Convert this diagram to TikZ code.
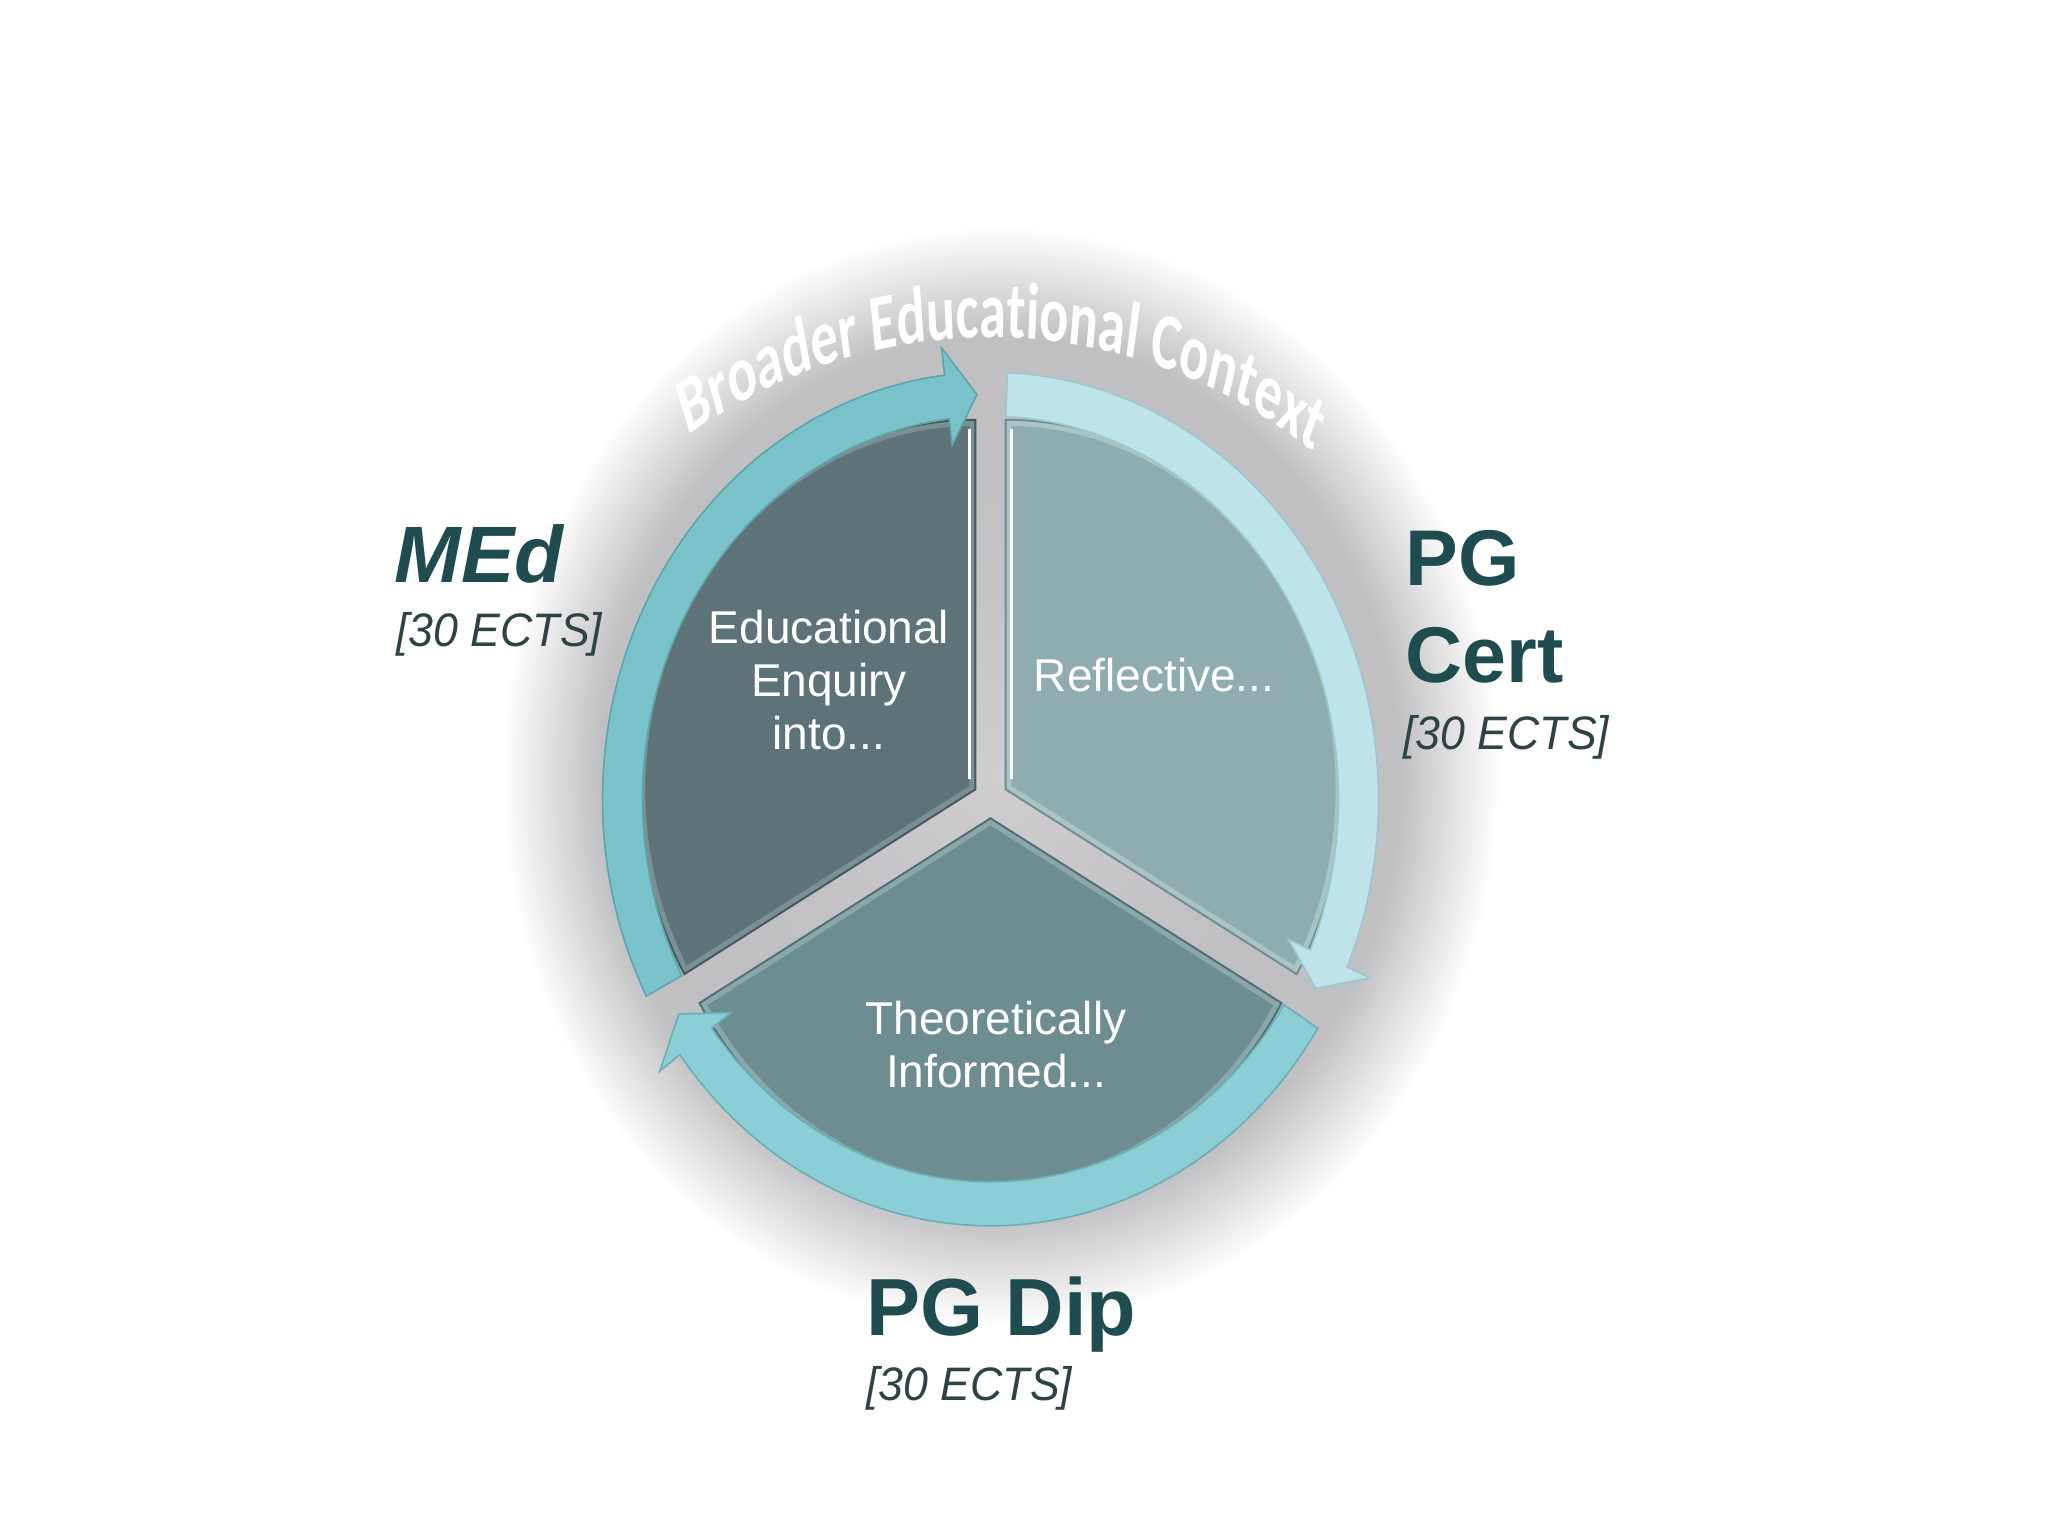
\documentclass[tikz,border=0pt]{standalone}
\usepackage{fontspec}
\setmainfont{Liberation Sans}
\newfontfamily\carl{Carlito}
\usetikzlibrary{decorations.text}

\definecolor{gcen}{RGB}{208,205,207}
\definecolor{gmid}{RGB}{192,191,193}
\definecolor{segdark}{RGB}{93,115,119}
\definecolor{segdarkbev}{RGB}{122,144,148}
\definecolor{segdarkedge}{RGB}{70,90,94}
\definecolor{segright}{RGB}{143,173,174}
\definecolor{segrightbev}{RGB}{170,196,197}
\definecolor{segrightedge}{RGB}{112,142,144}
\definecolor{segbot}{RGB}{110,141,145}
\definecolor{segbotbev}{RGB}{138,168,171}
\definecolor{segbotedge}{RGB}{82,112,116}
\definecolor{arrL}{RGB}{122,195,203}
\definecolor{arrLedge}{RGB}{92,165,173}
\definecolor{arrR}{RGB}{190,227,232}
\definecolor{arrRedge}{RGB}{155,200,206}
\definecolor{arrB}{RGB}{140,206,213}
\definecolor{arrBedge}{RGB}{105,175,183}
\definecolor{labc}{RGB}{31,77,79}
\definecolor{ectsc}{RGB}{46,67,69}

\pgfdeclareradialshading{halo}{\pgfpoint{0bp}{0bp}}{color(0bp)=(gcen); color(13bp)=(gmid); color(20bp)=(gmid); color(25bp)=(white); color(50bp)=(white)}

\newcommand\segpathA{(150:17.5) -- ++(210:336) arc[start angle=210,end angle=90,radius=336] -- cycle}
\newcommand\segpathB{(30:17.5) -- ++(90:336) arc[start angle=90,end angle=-30,radius=336] -- cycle}
\newcommand\segpathC{(270:17.5) -- ++(330:336) arc[start angle=330,end angle=210,radius=336] -- cycle}

\tikzset{
  innertext/.style={text=white, font=\fontsize{23}{26.5}\selectfont, align=center, inner sep=0pt},
  biglabel/.style={text=labc, font=\fontsize{39.5}{48.5}\selectfont\bfseries, inner sep=0pt},
  ectslabel/.style={text=ectsc, font=\fontsize{23.5}{26}\selectfont\itshape, inner sep=0pt, xscale=0.95}
}

\begin{document}
\begin{tikzpicture}[x=0.5pt,y=0.5pt]
\useasboundingbox (0,0) rectangle (2048,1536);
\fill[white] (0,0) rectangle (2048,1536);
\shade[shading=halo] (1000,760) ellipse [x radius=500, y radius=550];

\begin{scope}[shift={(990.5,737)}, yscale=1.1]
  % segments
  \fill[segdark] \segpathA;
  \begin{scope}\clip \segpathA; \draw[segdarkbev, line width=6pt] \segpathA; \end{scope}
  \draw[segdarkedge, line width=1pt] \segpathA;
  \draw[white, line width=1.4pt] (-21,18) -- (-21,336);

  \fill[segright] \segpathB;
  \begin{scope}\clip \segpathB; \draw[segrightbev, line width=6pt] \segpathB; \end{scope}
  \draw[segrightedge, line width=1pt] \segpathB;
  \draw[white, line width=1.4pt] (21,18) -- (21,336);

  \fill[segbot] \segpathC;
  \begin{scope}\clip \segpathC; \draw[segbotbev, line width=6pt] \segpathC; \end{scope}
  \draw[segbotedge, line width=1pt] \segpathC;

  % circular arrows
  \filldraw[fill=arrL, draw=arrLedge, line width=0.8pt]
    (207.5:348) arc[start angle=207.5, end angle=96.8, radius=348]
    -- (96.8:324) -- (92.1:368) -- (96.8:413) -- (96.8:388)
    arc[start angle=96.8, end angle=207.5, radius=388] -- cycle;
  \filldraw[fill=arrR, draw=arrRedge, line width=0.8pt]
    (87.5:348) arc[start angle=87.5, end angle=-23.2, radius=348]
    -- (-23.2:324) -- (-27.9:368) -- (-23.2:413) -- (-23.2:388)
    arc[start angle=-23.2, end angle=87.5, radius=388] -- cycle;
  \filldraw[fill=arrB, draw=arrBedge, line width=0.8pt]
    (-32.5:348) arc[start angle=-32.5, end angle=-143.2, radius=348]
    -- (-143.2:324) -- (-147.9:368) -- (-143.2:413) -- (-143.2:388)
    arc[start angle=-143.2, end angle=-32.5, radius=388] -- cycle;
\end{scope}

% texts inside segments
\node[innertext] (edu) at (829,856) {Educational\\Enquiry\\into...};
\node[innertext, anchor=base] (refl) at (1154,844) {Reflective...};
\node[innertext] (theo) at (996,491) {Theoretically\\Informed...};

% curved text
\begin{scope}[transform canvas={cm={0.85,0,0,1.25,(148.5,-146.5)}}]
\path[decorate, decoration={text along path, text align=center,
  text={|\carl\bfseries\fontsize{32}{32}\selectfont\color{white}|Broader Educational Context}}]
  (582.0,968.9) arc[start angle=128.6, end angle=48.6, x radius=654, y radius=490];
\end{scope}

% outer labels
\node[biglabel, font=\fontsize{40}{48.5}\selectfont\bfseries\itshape, anchor=base west] (med) at (394,953) {MEd};
\node[ectslabel, anchor=base west] (medects) at (396,889) {[30 ECTS]};
\node[biglabel, align=left, anchor=north west] (pgcert) at (1405,1006) {PG\\Cert};
\node[ectslabel, anchor=base west] (certects) at (1403,786) {[30 ECTS]};
\node[biglabel, font=\fontsize{40.5}{48.5}\selectfont\bfseries, anchor=base west] (pgdip) at (866,201) {PG Dip};
\node[ectslabel, anchor=base west] (dipects) at (866,136) {[30 ECTS]};
\end{tikzpicture}
\end{document}
